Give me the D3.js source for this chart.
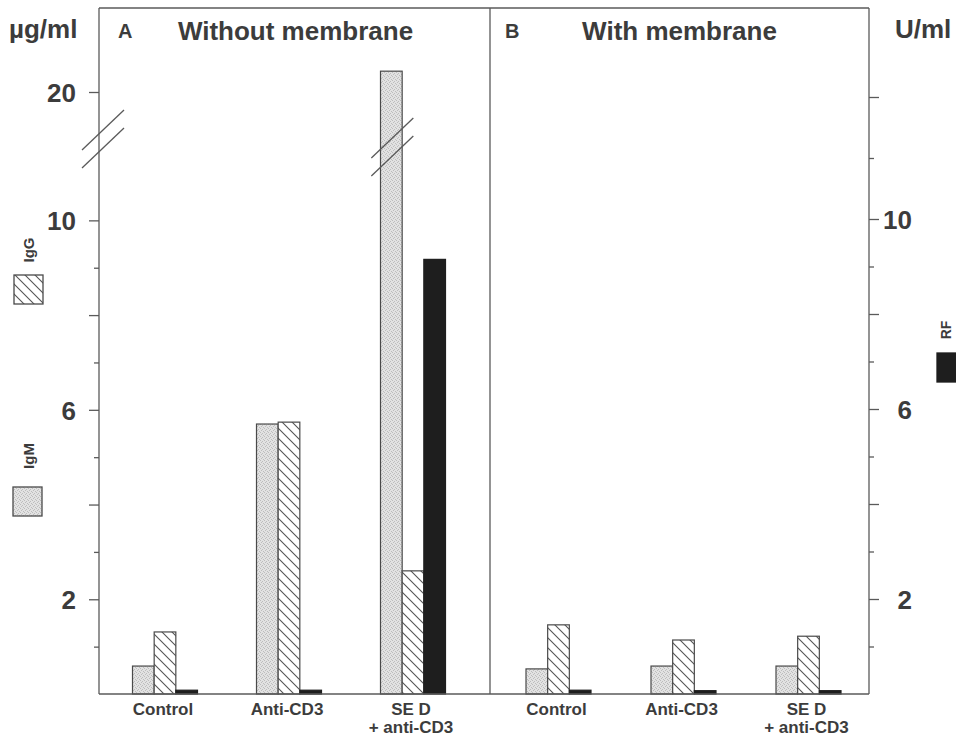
<!DOCTYPE html>
<html>
<head>
<meta charset="utf-8">
<script src="https://cdn.jsdelivr.net/npm/d3@7"></script>
<style>
  html, body { margin: 0; padding: 0; background: #fff; }
  svg { display: block; font-family: "Liberation Sans", Arial, Helvetica, sans-serif; }
</style>
</head>
<body>
<script>
// ---------- data ----------
const categories = ["Control", "Anti-CD3", "SE D|+ anti-CD3"];
const series = ["IgM", "IgG", "RF"];
const panelTitles = ["Without membrane", "With membrane"];
const panelLetters = ["A", "B"];
// Panel A: without membrane (IgM, IgG in µg/ml; RF in U/ml)
const igmA = [0.59, 5.7, 20.44];
const iggA = [1.31, 5.74, 2.6];
const rfA  = [0.08, 0.08, 9.15];
// Panel B: with membrane
const igmB = [0.53, 0.59, 0.59];
const iggB = [1.46, 1.14, 1.22];
const rfB  = [0.08, 0.07, 0.07];
// axes
const leftTicksLow = [1, 2, 3, 4, 5, 6, 7, 8, 9, 10];
const leftTicksUp = [20];
const leftLabels = [2, 6, 10, 20];
const rightTicks = [1, 2, 3, 4, 5, 6, 7, 8, 9, 10, 11, 12];
const rightLabels = [2, 6, 10];

// ---------- setup ----------
const W = 956, H = 738;
const ink = "#4a4a4a", txt = "#3c3c3c";
const svg = d3.select("body").append("svg").attr("width", W).attr("height", H);

const defs = svg.append("defs");
// stipple for IgM
const st = defs.append("pattern").attr("id", "stipple").attr("patternUnits", "userSpaceOnUse")
  .attr("width", 4).attr("height", 4);
st.append("rect").attr("width", 4).attr("height", 4).attr("fill", "#e2e2e2");
[[0,0],[2,1],[1,2],[3,3]].forEach(([x,y]) =>
  st.append("rect").attr("x", x).attr("y", y).attr("width", 1).attr("height", 1).attr("fill", "#bdbdbd"));
// hatch for IgG
const ht = defs.append("pattern").attr("id", "hatch").attr("patternUnits", "userSpaceOnUse")
  .attr("width", 10).attr("height", 10);
ht.append("rect").attr("width", 10).attr("height", 10).attr("fill", "#fff");
ht.append("path").attr("d", "M-1,-1L11,11M-1,9L1,11M9,-1L11,1")
  .attr("stroke", "#555").attr("stroke-width", 1.1);

const fills = { IgM: "url(#stipple)", IgG: "url(#hatch)", RF: "#1e1e1e" };

// scales
const x0 = 99, xMid = 490, x1 = 869, yTop = 8;
const yLow = d3.scaleLinear().domain([0, 11]).range([694, 173]);
const yUp = d3.scaleLinear().domain([18.5, 21.5]).range([163, 21]);
const yLeft = v => (v <= 11 ? yLow(v) : yUp(v));
const yRight = d3.scaleLinear().domain([0, 10, 12]).range([694, 219, 97]);
const yBase = yLow(0);

const xPanels = [
  d3.scaleBand().domain(categories).range([103, 475]),
  d3.scaleBand().domain(categories).range([496, 871])
];
const xInner = d3.scaleBand().domain(series).range([-32.5, 32.5]);

const panelData = [
  { IgM: igmA, IgG: iggA, RF: rfA },
  { IgM: igmB, IgG: iggB, RF: rfB }
];

// ---------- bars ----------
panelData.forEach((pd, pi) => {
  const xs = xPanels[pi];
  const g = svg.append("g");
  categories.forEach((c, ci) => {
    const cx = xs(c) + xs.bandwidth() / 2;
    series.forEach(s => {
      const v = pd[s][ci];
      const yv = s === "RF" ? yRight(v) : yLeft(v);
      g.append("rect")
        .attr("x", cx + xInner(s))
        .attr("y", yv)
        .attr("width", xInner.bandwidth())
        .attr("height", yBase - yv)
        .attr("fill", fills[s])
        .attr("stroke", s === "RF" ? "#1e1e1e" : ink)
        .attr("stroke-width", 1.2);
    });
  });
  // x labels
  categories.forEach(c => {
    const cx = xs(c) + xs.bandwidth() / 2;
    const lines = c.split("|");
    lines.forEach((ln, li) => {
      g.append("text").attr("x", cx - 2).attr("y", 715 + li * 18)
        .attr("text-anchor", "middle").attr("font-size", 17).attr("font-weight", "bold")
        .attr("fill", txt).text(ln);
    });
  });
});

// ---------- frame ----------
const frame = svg.append("g").attr("stroke", "#5a5a5a").attr("stroke-width", 1.3).attr("fill", "none");
frame.append("line").attr("x1", x0).attr("x2", x1).attr("y1", yTop).attr("y2", yTop);
frame.append("line").attr("x1", x0).attr("x2", x1).attr("y1", yBase).attr("y2", yBase);
frame.append("line").attr("x1", x0).attr("x2", x0).attr("y1", yTop).attr("y2", yBase);
frame.append("line").attr("x1", xMid).attr("x2", xMid).attr("y1", yTop).attr("y2", yBase);
frame.append("line").attr("x1", x1).attr("x2", x1).attr("y1", yTop).attr("y2", yBase);

// ---------- axes ----------
function styleAxis(g, side) {
  g.select(".domain").remove();
  g.selectAll(".tick line").attr("stroke", "#5a5a5a").attr("stroke-width", 1.3)
    .attr("x2", d => (d % 2 === 0 ? 10 : 5) * side);
  g.selectAll(".tick text").attr("font-size", 26).attr("font-weight", "bold")
    .attr("fill", txt).attr("font-family", "Liberation Sans, Arial, sans-serif");
}
const fmtL = d => (leftLabels.includes(d) ? d : "");
svg.append("g").attr("transform", `translate(${x0},0)`)
  .call(d3.axisLeft(yLow).tickValues(leftTicksLow).tickFormat(fmtL).tickSize(10).tickPadding(13))
  .call(g => styleAxis(g, -1))
  .call(g => g.selectAll(".tick text").attr("dy", "0.36em"));
svg.append("g").attr("transform", `translate(${x0},0)`)
  .call(d3.axisLeft(yUp).tickValues(leftTicksUp).tickFormat(fmtL).tickSize(10).tickPadding(13))
  .call(g => styleAxis(g, -1))
  .call(g => g.selectAll(".tick text").attr("dy", "0.36em"));
svg.append("g").attr("transform", `translate(${x1},0)`)
  .call(d3.axisRight(yRight).tickValues(rightTicks)
    .tickFormat(d => (rightLabels.includes(d) ? d : "")).tickSize(10).tickPadding(3))
  .call(g => styleAxis(g, 1))
  .call(g => g.selectAll(".tick text").attr("text-anchor", "end").attr("x", 43).attr("dy", "0.36em"));

// ---------- axis break marks ----------
function breakMarks(cx, cy) {
  const b = svg.append("g").attr("stroke", "#5a5a5a").attr("stroke-width", 1.3);
  [-9, 9].forEach(off => {
    b.append("line").attr("x1", cx - 21).attr("y1", cy + off + 20)
      .attr("x2", cx + 21).attr("y2", cy + off - 20);
  });
}
breakMarks(x0 + 4, yUp(20) + 47);
breakMarks(xPanels[0]("SE D|+ anti-CD3") + xPanels[0].bandwidth() / 2 + xInner("IgM") + xInner.bandwidth() / 2 + 1, yUp(20) + 55);

// ---------- titles ----------
const T = (x, y, s, size, anchor = "start") =>
  svg.append("text").attr("x", x).attr("y", y).attr("font-size", size)
    .attr("font-weight", "bold").attr("fill", txt).attr("text-anchor", anchor).text(s);
T(9, 38, "µg/ml", 26);
T(895, 38, "U/ml", 26);
T(118, 38, panelLetters[0], 20);
T(505, 38, panelLetters[1], 20);
T((x0 + xMid) / 2 + 1, 40, panelTitles[0], 26, "middle");
T((xMid + x1) / 2, 40, panelTitles[1], 26, "middle");

// ---------- legend ----------
const legend = [
  { s: "IgG", tx: 34, ty: 250, bx: 14, by: 275 },
  { s: "IgM", tx: 34, ty: 456, bx: 13, by: 487 },
  { s: "RF", tx: 951, ty: 330, bx: 937, by: 353 }
];
legend.forEach(l => {
  svg.append("text").attr("transform", `translate(${l.tx},${l.ty}) rotate(-90)`)
    .attr("text-anchor", "middle").attr("font-size", l.s === "RF" ? 14 : 15)
    .attr("font-weight", "bold").attr("fill", txt).text(l.s);
  svg.append("rect").attr("x", l.bx).attr("y", l.by).attr("width", 29).attr("height", 29)
    .attr("fill", fills[l.s]).attr("stroke", l.s === "RF" ? "#1e1e1e" : ink).attr("stroke-width", 1.3);
});
</script>
</body>
</html>
